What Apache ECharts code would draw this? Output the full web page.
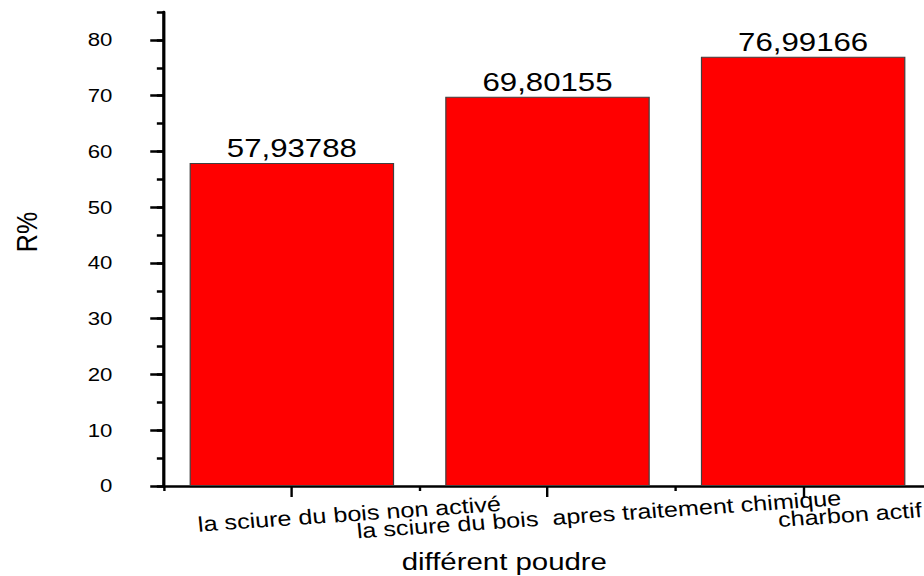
<!DOCTYPE html>
<html>
<head>
<meta charset="utf-8">
<script src="https://cdn.jsdelivr.net/npm/echarts@6/dist/echarts.min.js"></script>
<style>
  html, body { margin: 0; padding: 0; background: #fff; overflow: hidden; }
  /* the plot is laid out narrow, then stretched horizontally */
  #chart { width: 770px; height: 576px; transform: scaleX(1.2); transform-origin: 0 0; }
</style>
</head>
<body>
<div id="chart"></div>
<script>
// Powders compared
const categories = [
  'la sciure du bois non activé',
  'la sciure du bois  apres traitement chimique',
  'charbon actif'
];
// Removal yield R (%)
const rValues = [57.93788, 69.80155, 76.99166];
// Y-axis tick labels
const yTicks = [0, 10, 20, 30, 40, 50, 60, 70, 80];
const yMax = 85;
const xName = 'différent poudre';
const yName = 'R%';

const FONT = '"Liberation Sans", Arial, sans-serif';
const fmtComma = v => String(v).replace('.', ',');

// slanted category labels sit a little to the right of their tick
const labelShift = [96, 86, 78];
const categoryItems = categories.map((name, i) => ({
  value: name,
  textStyle: {
    align: 'center',
    verticalAlign: 'middle',
    padding: [0, 0, 0, labelShift[i]]
  }
}));

const chart = echarts.init(document.getElementById('chart'), null, { renderer: 'svg' });

chart.setOption({
  backgroundColor: '#ffffff',
  animation: false,
  grid: {
    left: 136.7, right: -5.8, top: 12, bottom: 90,
    containLabel: false,
    outerBoundsMode: 'none'
  },
  xAxis: [
    {
      type: 'category',
      data: categoryItems,
      position: 'bottom',
      name: xName,
      nameLocation: 'middle',
      nameGap: 63,
      nameMoveOverlap: false,
      nameTextStyle: { fontFamily: FONT, fontSize: 24.5, color: '#000', padding: [0, 72, 0, 0] },
      axisLine: { show: true, onZero: false, lineStyle: { color: '#000', width: 2.6 } },
      axisTick: { show: true, alignWithLabel: true, interval: 0, length: 11, lineStyle: { color: '#000', width: 2 } },
      axisLabel: {
        show: true,
        interval: 0,
        hideOverlap: false,
        rotate: 4.7,
        align: 'center',
        verticalAlign: 'middle',
        margin: 32,
        fontFamily: FONT,
        fontSize: 21,
        color: '#000'
      },
      splitLine: { show: false }
    },
    {
      // boundary ticks between categories
      type: 'category',
      data: categories,
      position: 'bottom',
      axisLine: { show: false, onZero: false },
      axisTick: { show: true, interval: 0, length: 5, lineStyle: { color: '#000', width: 2 } },
      axisLabel: { show: false },
      splitLine: { show: false }
    }
  ],
  yAxis: [
    {
      type: 'value',
      min: 0,
      max: yMax,
      interval: 10,
      position: 'left',
      name: yName,
      nameLocation: 'middle',
      nameRotate: 90,
      nameGap: 102,
      nameMoveOverlap: false,
      nameTextStyle: { fontFamily: FONT, fontSize: 25, color: '#000', padding: [0, 0, 0, 34] },
      axisLine: { show: true, onZero: false, lineStyle: { color: '#000', width: 2.7 } },
      axisTick: { show: true, length: 11.5, customValues: yTicks, lineStyle: { color: '#000', width: 2.5 } },
      axisLabel: {
        show: true,
        customValues: yTicks,
        margin: 43,
        fontFamily: FONT,
        fontSize: 18.5,
        color: '#000'
      },
      splitLine: { show: false }
    },
    {
      // minor ticks every 5 units
      type: 'value',
      min: 0,
      max: yMax,
      interval: 5,
      position: 'left',
      axisLine: { show: false, onZero: false },
      axisTick: { show: true, length: 6, lineStyle: { color: '#000', width: 2.5 } },
      axisLabel: { show: false },
      splitLine: { show: false }
    }
  ],
  series: [
    {
      type: 'bar',
      xAxisIndex: 0,
      yAxisIndex: 0,
      data: rValues,
      barWidth: '80%',
      itemStyle: { color: '#ff0000', borderColor: '#404040', borderWidth: 1 },
      label: {
        show: true,
        position: 'top',
        distance: 2,
        fontFamily: FONT,
        fontSize: 26,
        color: '#000',
        formatter: p => fmtComma(p.value)
      }
    }
  ]
});
</script>
</body>
</html>
